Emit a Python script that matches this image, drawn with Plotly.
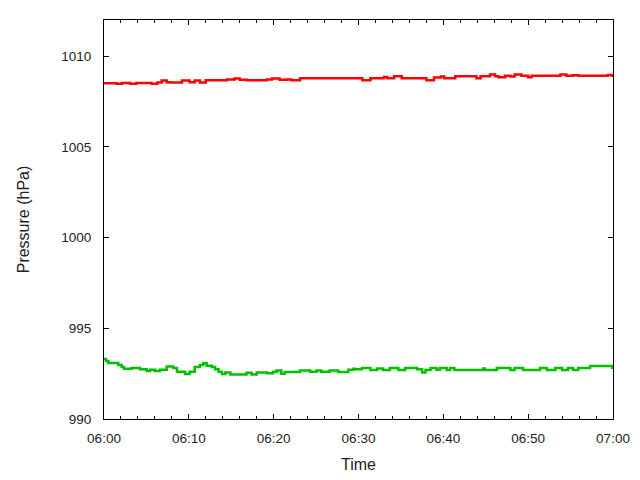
import pandas as pd
import plotly.graph_objects as go

# minutes after 06:00 where value changes (step data)
red_min = [0, 1.5, 2.1, 3.1, 3.8, 5.6, 6.3, 6.8, 7.4, 7.8, 9.2, 10.1, 10.7, 11.3, 12.0,
           14.5, 15.4, 16.0, 16.8, 19.2, 19.8, 20.7, 21.5, 22.1, 23.1, 30.45, 31.4,
           33.0, 33.4, 34.2, 35.1, 38.0, 38.9, 39.7, 40.1, 41.4, 43.9, 44.4, 45.5,
           46.1, 46.5, 47.3, 47.9, 48.4, 49.2, 50.0, 50.4, 53.8, 54.5, 55.3, 55.9,
           59.4, 59.9, 60]
red_val = [1008.51, 1008.48, 1008.53, 1008.48, 1008.53, 1008.48, 1008.55, 1008.66,
           1008.57, 1008.55, 1008.66, 1008.57, 1008.66, 1008.55, 1008.68, 1008.72,
           1008.77, 1008.70, 1008.68, 1008.72, 1008.77, 1008.70, 1008.72, 1008.68,
           1008.79, 1008.68, 1008.79, 1008.86, 1008.79, 1008.90, 1008.79, 1008.68,
           1008.83, 1008.88, 1008.79, 1008.90, 1008.79, 1008.90, 1008.99, 1008.90,
           1008.84, 1008.93, 1008.88, 1008.99, 1008.92, 1008.84, 1008.92, 1008.99,
           1008.92, 1008.95, 1008.92, 1008.97, 1008.92, 1008.92]

green_min = [0, 0.24, 0.51, 1.69, 2.08, 2.36, 3.26, 4.24, 5.03, 5.42, 6.0, 6.6, 7.4,
             8.17, 8.6, 9.55, 10.1, 10.7, 11.3, 11.7, 12.1, 12.7, 13.1, 13.5, 13.9,
             14.3, 14.9, 16.8, 17.4, 18.0, 19.2, 19.96, 20.35, 20.9, 21.3, 23.1, 24.3,
             25.06, 25.6, 26.6, 27.6, 28.8, 29.4, 29.6, 30.4, 31.4, 32.2, 32.9, 33.7,
             34.7, 35.5, 36.9, 37.5, 37.9, 38.5, 39.2, 39.6, 40.4, 40.8, 41.3, 44.7,
             44.9, 46.3, 47.9, 48.4, 49.4, 51.4, 52.2, 53.2, 54.0, 54.7, 55.3, 55.9,
             57.3, 59.9, 60]
green_val = [993.31, 993.20, 993.09, 992.98, 992.87, 992.77, 992.81, 992.74, 992.64,
             992.72, 992.64, 992.72, 992.90, 992.81, 992.61, 992.48, 992.61, 992.87,
             992.98, 993.07, 992.94, 992.87, 992.75, 992.61, 992.48, 992.57, 992.46,
             992.55, 992.46, 992.57, 992.52, 992.61, 992.68, 992.50, 992.59, 992.68,
             992.61, 992.68, 992.61, 992.68, 992.59, 992.72, 992.77, 992.74, 992.81,
             992.70, 992.79, 992.70, 992.81, 992.70, 992.81, 992.74, 992.57, 992.70,
             992.81, 992.72, 992.81, 992.70, 992.81, 992.70, 992.79, 992.70, 992.81,
             992.70, 992.81, 992.70, 992.81, 992.70, 992.81, 992.70, 992.81, 992.70,
             992.81, 992.92, 992.83, 992.83]

y_ticks = [990, 995, 1000, 1005, 1010]

base = pd.Timestamp("2020-01-01 06:00:00")
def to_t(mins):
    return [base + pd.Timedelta(minutes=m) for m in mins]

font = "Liberation Sans, Arial, sans-serif"
fig = go.Figure()
fig.add_trace(go.Scatter(x=to_t(red_min), y=red_val, mode="lines",
                         line=dict(color="#ff0000", width=2.5, shape="hv"),
                         showlegend=False))
fig.add_trace(go.Scatter(x=to_t(green_min), y=green_val, mode="lines",
                         line=dict(color="#00c000", width=2.5, shape="hv"),
                         showlegend=False))

# page body has an 8px default margin; margins compensate so the plot box
# lands at x 104..613, y 20..419 in the window
fig.update_layout(
    width=640, height=480,
    margin=dict(l=96, r=35, t=12, b=69),
    paper_bgcolor="white", plot_bgcolor="white",
    font=dict(family=font, size=13.5, color="#222222"),
    showlegend=False,
)
fig.update_xaxes(
    type="date",
    range=[base, base + pd.Timedelta(minutes=60)],
    tickformat="%H:%M", dtick=600000, tick0=base,
    ticks="inside", ticklen=5, tickcolor="black", tickwidth=1,
    minor=dict(dtick=120000, ticks="inside", ticklen=3, tickcolor="black", showgrid=False),
    showline=True, linecolor="black", linewidth=1, mirror="ticks",
    showgrid=False, zeroline=False,
    title=dict(text="Time", standoff=13),
    ticklabelstandoff=7,
    automargin=False,
)
fig.update_yaxes(
    range=[990, 1012],
    tickvals=y_ticks,
    ticks="inside", ticklen=5, tickcolor="black", tickwidth=1,
    showline=True, linecolor="black", linewidth=1, mirror="ticks",
    showgrid=False, zeroline=False,
    title=dict(text="Pressure (hPa)", standoff=27),
    ticklabelstandoff=9,
    automargin=False,
)

fig.write_html("out.html")
